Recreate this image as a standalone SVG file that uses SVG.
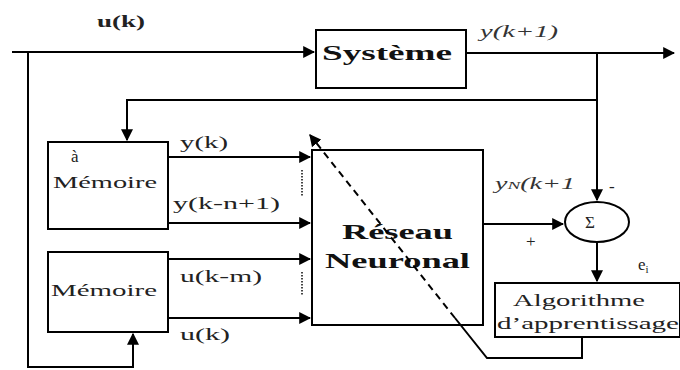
<svg xmlns="http://www.w3.org/2000/svg" width="680" height="370" viewBox="0 0 680 370">
<defs>
<style>
.box{fill:#fff;stroke:#000;stroke-width:2}
.ln{fill:none;stroke:#000;stroke-width:2}
text{font-family:"Liberation Serif","Times New Roman","DejaVu Serif",serif}
.t{font-size:17px;fill:#222}
.b{font-weight:bold;fill:#111}
.i{font-style:italic;font-size:16px;fill:#333}
</style>
<marker id="arb" viewBox="0 0 10 10" refX="9" refY="5" markerWidth="12" markerHeight="12" orient="auto" markerUnits="userSpaceOnUse">
<path d="M0,0 L10,5 L0,10 z" fill="#000"/>
</marker>
</defs>
<rect width="680" height="370" fill="#fff"/>
<g id="systeme">
<rect class="box" x="316" y="30" width="150" height="58"/>
<text class="b" x="322" y="60" font-size="20" textLength="130" lengthAdjust="spacingAndGlyphs">Système</text>
</g>
<g id="memoire1">
<rect class="box" x="48" y="142" width="120" height="87"/>
<text class="t" x="71" y="162">à</text>
<text class="t" x="53" y="188" textLength="104" lengthAdjust="spacingAndGlyphs">Mémoire</text>
</g>
<g id="memoire2">
<rect class="box" x="48" y="252" width="120" height="80"/>
<text class="t" x="51" y="296" textLength="106" lengthAdjust="spacingAndGlyphs">Mémoire</text>
</g>
<g id="reseau">
<rect class="box" x="312" y="150" width="171" height="175"/>
<text class="b" x="342" y="239" font-size="22" textLength="111" lengthAdjust="spacingAndGlyphs">Réseau</text>
<text class="b" x="325" y="268" font-size="22" textLength="145" lengthAdjust="spacingAndGlyphs">Neuronal</text>
</g>
<g id="sigma">
<ellipse class="box" cx="597" cy="222" rx="32" ry="20"/>
<text class="t" x="585" y="228" font-size="15">Σ</text>
</g>
<g id="algorithme">
<rect class="box" x="495" y="283" width="185" height="54"/>
<text class="t" x="513" y="306" textLength="132" lengthAdjust="spacingAndGlyphs">Algorithme</text>
<text class="t" x="497" y="329" textLength="182" lengthAdjust="spacingAndGlyphs">d’apprentissage</text>
</g>
<g id="connectors">
<path class="ln" d="M12,52 L314,52" marker-end="url(#arb)"/>
<path class="ln" d="M28,52 L28,367 L133,367 L133,334" marker-end="url(#arb)"/>
<path class="ln" d="M466,53 L674,53" marker-end="url(#arb)"/>
<path class="ln" d="M597,53 L597,200" marker-end="url(#arb)"/>
<path class="ln" d="M597,100 L127,100 L127,140" marker-end="url(#arb)"/>
<path class="ln" d="M168,157 L310,157" marker-end="url(#arb)"/>
<path class="ln" d="M168,223 L310,223" marker-end="url(#arb)"/>
<path class="ln" d="M168,259 L310,259" marker-end="url(#arb)"/>
<path class="ln" d="M168,318 L310,318" marker-end="url(#arb)"/>
<path class="ln" d="M483,224 L563,224" marker-end="url(#arb)"/>
<path class="ln" d="M597,242 L597,281" marker-end="url(#arb)"/>
<path class="ln" d="M582,337 L582,358 L487,358 L455,318"/>
<path class="ln" d="M455,318 L310,135" stroke-dasharray="7,5" marker-end="url(#arb)"/>
<path d="M302,170 L302,196 M302,272 L302,296" stroke="#444" stroke-width="2" stroke-dasharray="1.5,1.5"/>
</g>
<g id="labels">
<text class="t" x="97" y="27" font-weight="bold" textLength="48" lengthAdjust="spacingAndGlyphs">u(k)</text>
<text class="i" x="480" y="37" textLength="78" lengthAdjust="spacingAndGlyphs">y(k+1)</text>
<text class="t" x="180" y="148" textLength="48" lengthAdjust="spacingAndGlyphs">y(k)</text>
<text class="t" x="173" y="209" textLength="107" lengthAdjust="spacingAndGlyphs">y(k-n+1)</text>
<text class="t" x="180" y="282" textLength="82" lengthAdjust="spacingAndGlyphs">u(k-m)</text>
<text class="t" x="180" y="340" textLength="50" lengthAdjust="spacingAndGlyphs">u(k)</text>
<text class="i" x="495" y="189" textLength="80" lengthAdjust="spacingAndGlyphs">y<tspan font-size="11">N</tspan>(k+1</text>
<text class="t" x="609" y="192">-</text>
<text class="t" x="526" y="247" font-size="14">+</text>
<text class="t" x="638" y="270">e<tspan font-size="11" dy="3">i</tspan></text>
</g>
</svg>
